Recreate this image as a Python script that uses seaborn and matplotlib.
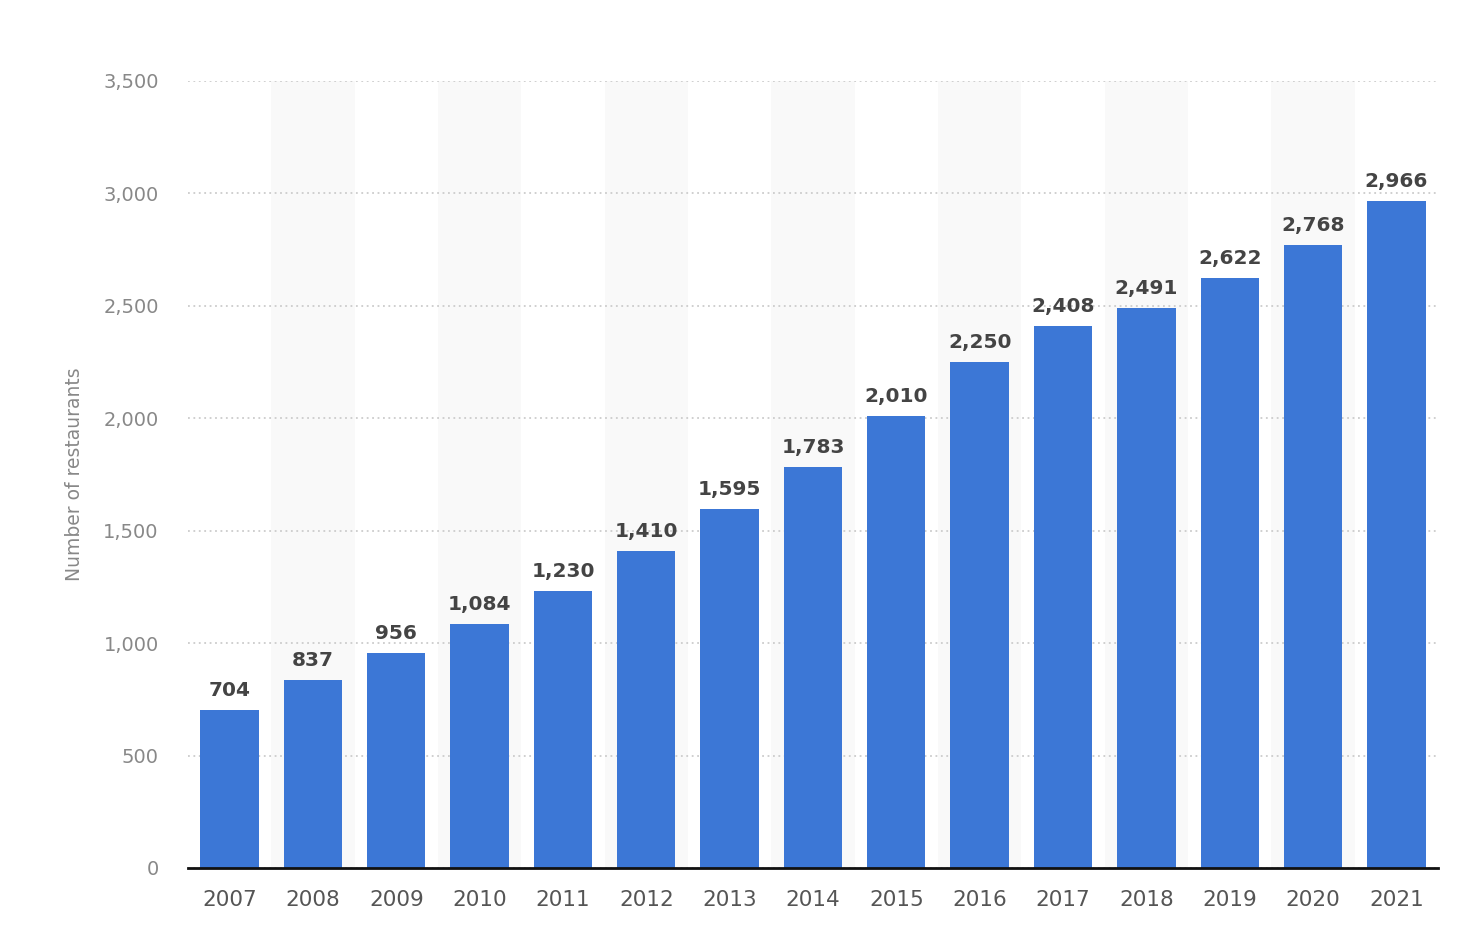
import seaborn as sns
import matplotlib.pyplot as plt
import pandas as pd

# data
years = ["2007", "2008", "2009", "2010", "2011", "2012", "2013", "2014",
         "2015", "2016", "2017", "2018", "2019", "2020", "2021"]
restaurants = [704, 837, 956, 1084, 1230, 1410, 1595, 1783,
               2010, 2250, 2408, 2491, 2622, 2768, 2966]
y_ticks = [0, 500, 1000, 1500, 2000, 2500, 3000, 3500]

df = pd.DataFrame({"Year": years, "Restaurants": restaurants})

sns.set_theme(style="white")
plt.rcParams['font.family'] = ['DejaVu Sans']

fig = plt.figure(figsize=(14.68, 9.46), dpi=100)
ax = fig.add_axes([0.128, 0.0825, 0.8516, 0.832])

# alternating light column bands
for i in range(len(years)):
    if i % 2 == 1:
        ax.axvspan(i - 0.5, i + 0.5, color="#f9f9f9", zorder=0, lw=0)

sns.barplot(data=df, x="Year", y="Restaurants", color="#3c77d6",
            width=0.7, saturation=1, linewidth=0, ax=ax, zorder=3)

for i, v in enumerate(restaurants):
    ax.text(i, v + 45, f"{v:,}", ha="center", va="bottom",
            fontsize=14.5, fontweight="bold", color="#444444", zorder=4)

ax.set_xlim(-0.5, len(years) - 0.5)
ax.set_ylim(0, 3500)
ax.set_yticks(y_ticks)
ax.set_yticklabels([f"{t:,}" for t in y_ticks])
ax.yaxis.grid(True, linestyle=(0, (1, 2)), color="#cccccc", linewidth=1.3, zorder=1)
ax.set_axisbelow(True)

for side in ["top", "right", "left"]:
    ax.spines[side].set_visible(False)
ax.spines["bottom"].set_color("#111111")
ax.spines["bottom"].set_linewidth(2)
ax.spines["bottom"].set_zorder(5)

ax.tick_params(axis="y", length=0, pad=21, labelsize=14, labelcolor="#888888")
ax.tick_params(axis="x", length=0, pad=16, labelsize=15.5, labelcolor="#555555")

ax.set_xlabel("")
ax.set_ylabel("Number of restaurants", fontsize=13.5, color="#888888", labelpad=14)

fig.savefig("out.png", dpi=100, facecolor="white")
